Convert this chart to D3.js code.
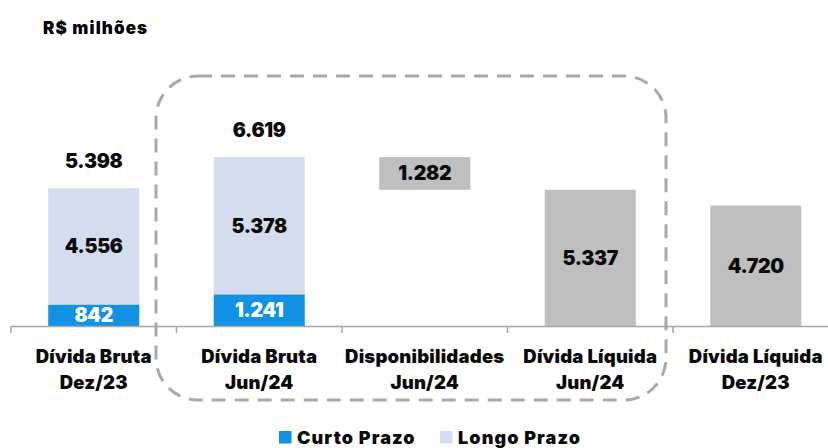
<!DOCTYPE html>
<html>
<head>
<meta charset="utf-8">
<script src="https://cdn.jsdelivr.net/npm/d3@7"></script>
<style>
  body { margin: 0; background: #fff; }
  text { font-family: Inter, Roboto, "Noto Sans", sans-serif; font-weight: 900; }
</style>
</head>
<body>
<div id="chart"></div>
<script>
// Data
const categories = ["Dívida Bruta|Dez/23", "Dívida Bruta|Jun/24", "Disponibilidades|Jun/24", "Dívida Líquida|Jun/24", "Dívida Líquida|Dez/23"];
const curtoPrazo = [842, 1241, null, null, null];
const longoPrazo = [4556, 5378, null, null, null];
const grayBase = [null, null, 5337, 0, 0];
const grayValue = [null, null, 1282, 5337, 4720];
const totals = [5398, 6619, null, null, null];
const legendItems = ["Curto Prazo", "Longo Prazo"];

const width = 828, height = 448;
const colors = { curto: "#1192e3", longo: "#d3ddee", gray: "#bfbfbf", axis: "#a6a6a6" };

const svg = d3.select("#chart").append("svg")
  .attr("width", width)
  .attr("height", height);

const x = d3.scaleBand()
  .domain(categories)
  .range([11, 11 + 165.5 * 5])
  .paddingInner(0.45)
  .paddingOuter(0.225);

const y = d3.scaleLinear()
  .domain([0, 7000])
  .range([326, 326 - 7000 * 0.02552]);

// Title
svg.append("text")
  .attr("x", 43).attr("y", 34)
  .attr("font-size", 17)
  .attr("letter-spacing", 1.1)
  .text("R$ milhões");

// stacked bars
const stackRows = categories.map((c, i) => ({ c, curto: curtoPrazo[i], longo: longoPrazo[i], total: totals[i] }))
  .filter(d => d.curto != null);

const gBars = svg.append("g");
gBars.selectAll(".curto").data(stackRows).join("rect")
  .attr("x", d => x(d.c)).attr("width", x.bandwidth())
  .attr("y", d => y(d.curto)).attr("height", d => y(0) - y(d.curto))
  .attr("fill", colors.curto);
gBars.selectAll(".longo").data(stackRows).join("rect")
  .attr("x", d => x(d.c)).attr("width", x.bandwidth())
  .attr("y", d => y(d.curto + d.longo)).attr("height", d => y(d.curto) - y(d.curto + d.longo))
  .attr("fill", colors.longo);

const grayRows = categories.map((c, i) => ({ c, base: grayBase[i], v: grayValue[i] }))
  .filter(d => d.v != null);
gBars.selectAll(".gray").data(grayRows).join("rect")
  .attr("x", d => x(d.c)).attr("width", x.bandwidth())
  .attr("y", d => y(d.base + d.v)).attr("height", d => y(d.base) - y(d.base + d.v))
  .attr("fill", colors.gray);

const fmt = v => d3.format(",")(v).replace(/,/g, ".");
const labelSize = 19.5;

// labels
const gLab = svg.append("g").attr("font-size", labelSize).attr("letter-spacing", -0.3)
  .attr("text-anchor", "middle").attr("fill", "#0a0a0a");
gLab.selectAll(".lc").data(stackRows).join("text")
  .attr("x", d => x(d.c) + x.bandwidth() / 2)
  .attr("y", d => (y(0) + y(d.curto)) / 2 + 7)
  .attr("fill", "#fff")
  .text(d => fmt(d.curto));
gLab.selectAll(".ll").data(stackRows).join("text")
  .attr("x", d => x(d.c) + x.bandwidth() / 2)
  .attr("y", d => (y(d.curto) + y(d.curto + d.longo)) / 2 + 7)
  .text(d => fmt(d.longo));
gLab.selectAll(".lt").data(stackRows).join("text")
  .attr("x", d => x(d.c) + x.bandwidth() / 2)
  .attr("y", d => y(d.total) - 20)
  .text(d => fmt(d.total));
gLab.selectAll(".lg").data(grayRows).join("text")
  .attr("x", d => x(d.c) + x.bandwidth() / 2)
  .attr("y", d => (y(d.base) + y(d.base + d.v)) / 2 + 7)
  .text(d => fmt(d.v));

// axis
const gAxis = svg.append("g").attr("stroke", colors.axis).attr("stroke-width", 1.5);
gAxis.append("line").attr("x1", 11).attr("x2", width).attr("y1", 326.5).attr("y2", 326.5);
gAxis.selectAll(".tick").data(categories).join("line")
  .attr("x1", d => x(d) - x.step() * 0.225).attr("x2", d => x(d) - x.step() * 0.225)
  .attr("y1", 326).attr("y2", 333);

const gCat = svg.append("g").attr("font-size", 18.5).attr("letter-spacing", 0.2)
  .attr("text-anchor", "middle").attr("fill", "#0a0a0a");
categories.forEach(c => {
  const parts = c.split("|");
  const t = gCat.append("text").attr("x", x(c) + x.bandwidth() / 2);
  t.append("tspan").attr("x", x(c) + x.bandwidth() / 2).attr("y", 363).text(parts[0]);
  t.append("tspan").attr("x", x(c) + x.bandwidth() / 2).attr("y", 389).text(parts[1]);
});

// dashed highlight box
svg.append("rect")
  .attr("x", 156).attr("y", 76)
  .attr("width", 510).attr("height", 324)
  .attr("rx", 42).attr("ry", 42)
  .attr("fill", "none")
  .attr("stroke", "#a9a9a9")
  .attr("stroke-width", 3)
  .attr("stroke-dasharray", "14 9");

// legend
const legendColors = [colors.curto, colors.longo];
const legendX = [279, 440];
const gLeg = svg.append("g").attr("font-size", 18).attr("letter-spacing", 1.1).attr("fill", "#0a0a0a");
legendItems.forEach((name, i) => {
  gLeg.append("rect").attr("x", legendX[i]).attr("y", 431).attr("width", 12.5).attr("height", 12.5).attr("fill", legendColors[i]);
  gLeg.append("text").attr("x", legendX[i] + 18).attr("y", 443.5).text(name);
});
</script>
</body>
</html>
